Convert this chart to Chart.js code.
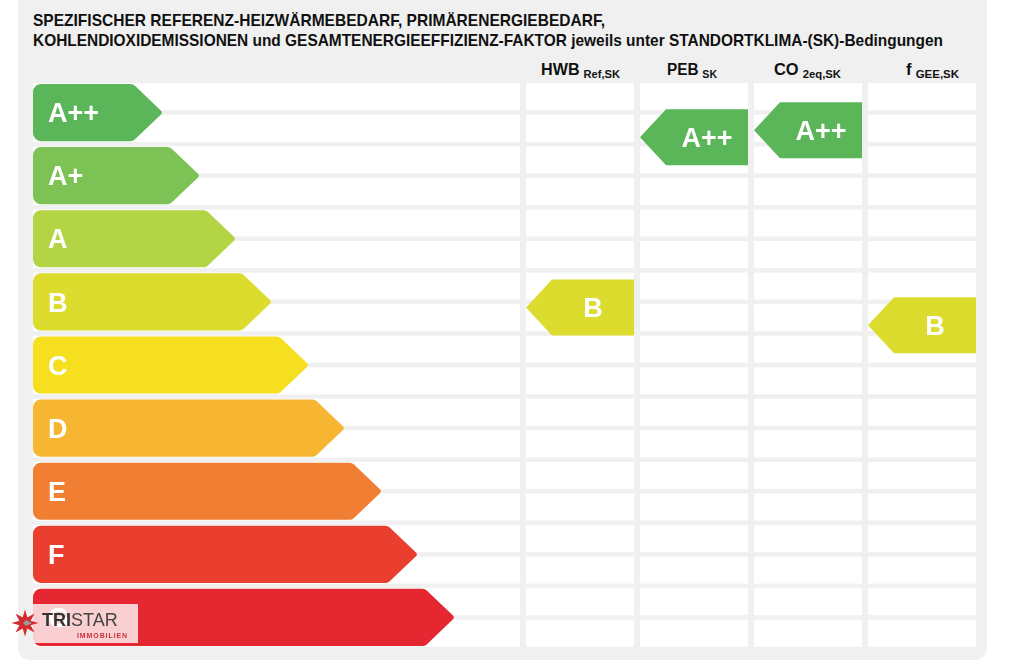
<!DOCTYPE html>
<html><head><meta charset="utf-8">
<script src="https://cdn.jsdelivr.net/npm/chart.js@4.4.1/dist/chart.umd.min.js"></script>
<style>
html,body{margin:0;padding:0;background:#fff;width:1024px;height:667px;overflow:hidden;font-family:"Liberation Sans",Arial,sans-serif;}
#panel{position:absolute;left:18px;top:-14px;width:969px;height:674px;background:#f0f0f0;border-radius:12px;}
.t{position:absolute;font-weight:bold;white-space:nowrap;transform-origin:0 0;color:#111;line-height:1;}
.title{left:33px;font-size:17px;}
.hd{font-size:16px;top:62px;}
.hd sub{font-size:11px;vertical-align:-3px;line-height:1;margin-left:4px;}
canvas{position:absolute;}
#logo{position:absolute;left:33px;top:604px;width:105px;height:39px;background:rgba(255,255,255,0.78);}
#star{position:absolute;left:11px;top:608px;}
#brand{position:absolute;left:42px;top:611px;font-size:18px;line-height:1;color:#444;white-space:nowrap;}
#brand b{color:#333;}
#sub{position:absolute;left:77px;top:632px;font-size:7px;line-height:1;color:#c8333a;letter-spacing:0.9px;font-weight:bold;white-space:nowrap;}
</style></head>
<body>
<div id="panel"></div>
<div class="t title" id="t1" style="top:12px">SPEZIFISCHER REFERENZ-HEIZWÄRMEBEDARF, PRIMÄRENERGIEBEDARF,</div>
<div class="t title" id="t2" style="top:32px">KOHLENDIOXIDEMISSIONEN und GESAMTENERGIEEFFIZIENZ-FAKTOR jeweils unter STANDORTKLIMA-(SK)-Bedingungen</div>
<div class="t hd" id="h1" style="left:541px">HWB<sub>Ref,SK</sub></div>
<div class="t hd" id="h2" style="left:667px">PEB<sub>SK</sub></div>
<div class="t hd" id="h3" style="left:774px">CO<sub>2eq,SK</sub></div>
<div class="t hd" id="h4" style="left:906px">f<sub>GEE,SK</sub></div>
<canvas id="c1" width="507" height="588" style="left:23px;top:71px"></canvas>
<canvas id="c2" width="476" height="588" style="left:513px;top:71px"></canvas>
<div id="logo"></div>
<svg id="star" width="28" height="30" viewBox="0 0 28 30">
<polygon id="starPoly" fill="#d42a2e"/>
<polygon points="15,12 21,15 15,18 12,15" fill="#9a9a9a"/>
</svg>
<div id="brand"><b>TRI</b>STAR</div>
<div id="sub">IMMOBILIEN</div>
<script>
// ---- data ----
const classes = ['A++','A+','A','B','C','D','E','F','G'];
const classColors = ['#5bb659','#7cc254','#b3d444','#dcdc2f','#f6df1f','#f7b631','#f07f34','#ea3f2f','#e42731'];
const arrowLengths = [130,167,203,239,276,312,349,385,422];
const columns = ['HWB Ref,SK','PEB SK','CO 2eq,SK','f GEE,SK'];
const markerClasses = ['B','A++','A++','B'];
const markerPositions = [3.59,0.89,0.78,3.87];

// star shape
(function(){const pts=[];for(let k=0;k<16;k++){const r=k%2?6:13.5;const a=-Math.PI/2+k*Math.PI/8;pts.push((14+r*Math.cos(a)).toFixed(2)+','+(15+r*Math.sin(a)).toFixed(2));}document.getElementById('starPoly').setAttribute('points',pts.join(' '));})();

const FONT='"Liberation Sans", Arial, sans-serif';
const GAP_Y=4.5;

function cellsPlugin(colGap){
  return {id:'cells',beforeDatasetsDraw(chart){
    const ctx=chart.ctx, y=chart.scales.y, x=chart.scales.x, ca=chart.chartArea;
    const n=chart.data.labels.length;
    ctx.save();ctx.fillStyle='#ffffff';
    const isCat=y.type==='category';
    const cols=[];
    if(colGap===0){cols.push([ca.left,ca.right]);}
    else{const bw=x.width/n;for(let i=0;i<n;i++){const cx=x.getPixelForValue(i);cols.push([cx-bw/2+colGap/2,cx+bw/2-colGap/2]);}}
    for(let k=0;k<18;k++){
      const v0=isCat?k/2-0.5:k/2, v1=isCat?(k+1)/2-0.5:(k+1)/2;
      const t=y.getPixelForValue(v0)+GAP_Y/2, b=y.getPixelForValue(v1)-GAP_Y/2;
      cols.forEach(c=>ctx.fillRect(c[0],t,c[1]-c[0],b-t));
    }
    ctx.restore();
  }};
}

function label(ctx,txt,x,m,align){
  ctx.fillStyle='#ffffff';ctx.font='bold 27px '+FONT;ctx.textAlign=align;ctx.textBaseline='alphabetic';
  ctx.fillText(txt,x,m+0.716*27/2);
}

const arrowPlugin={id:'arrows',beforeDatasetDraw(chart,args){
  const ctx=chart.ctx, meta=chart.getDatasetMeta(args.index);
  meta.data.forEach((el,i)=>{
    const p=el.getProps(['x','y','base','height'],true);
    const x0=p.base,x1=p.x,t=p.y-p.height/2,b=p.y+p.height/2,m=p.y;
    const d=(b-t)/2*1.05, r=8, rt=6;
    ctx.save();ctx.beginPath();
    ctx.moveTo(x0+r,t);
    ctx.arcTo(x1-d,t,x1,m,rt);
    ctx.arcTo(x1,m,x1-d,b,3);
    ctx.arcTo(x1-d,b,x0,b,rt);
    ctx.arcTo(x0,b,x0,t,r);
    ctx.arcTo(x0,t,x1-d,t,r);
    ctx.closePath();
    ctx.fillStyle=chart.data.datasets[args.index].backgroundColor[i];ctx.fill();
    label(ctx,chart.data.labels[i],x0+15,m,'left');
    ctx.restore();
  });
  return false;
}};

const MARKER_H=56;
const markerPlugin={id:'markers',beforeDatasetDraw(chart,args){
  const ctx=chart.ctx, meta=chart.getDatasetMeta(args.index), xs=chart.scales.x;
  const bw=xs.width/chart.data.labels.length;
  meta.data.forEach((el,i)=>{
    const cls=markerClasses[i], col=classColors[classes.indexOf(cls)];
    const x0=el.x-bw/2+3, x1=el.x+bw/2-3, m=el.y, t=m-MARKER_H/2, b=m+MARKER_H/2;
    const d=MARKER_H/2*0.93;
    ctx.save();ctx.beginPath();
    ctx.moveTo(x1,t);ctx.lineTo(x0+d,t);ctx.lineTo(x0,m);ctx.lineTo(x0+d,b);ctx.lineTo(x1,b);ctx.closePath();
    ctx.fillStyle=col;ctx.fill();
    label(ctx,cls,(x0+d+x1)/2,m,'center');
    ctx.restore();
  });
  return false;
}};

new Chart(document.getElementById('c1'),{
  type:'bar',
  data:{labels:classes,datasets:[{data:arrowLengths,backgroundColor:classColors,barPercentage:0.906,categoryPercentage:1}]},
  options:{indexAxis:'y',responsive:false,animation:false,events:[],layout:{padding:10},
    plugins:{legend:{display:false},tooltip:{enabled:false}},
    scales:{x:{display:false,min:0,max:487},y:{display:false}}},
  plugins:[cellsPlugin(0),arrowPlugin]
});

new Chart(document.getElementById('c2'),{
  type:'line',
  data:{labels:columns,datasets:[{data:markerPositions,showLine:false,pointRadius:0}]},
  options:{responsive:false,animation:false,events:[],layout:{padding:10},
    plugins:{legend:{display:false},tooltip:{enabled:false}},
    scales:{x:{display:false,offset:true},y:{display:false,reverse:true,min:0,max:9}}},
  plugins:[cellsPlugin(6),markerPlugin]
});

function fit(id,target){const el=document.getElementById(id);const w=el.getBoundingClientRect().width;el.style.transform='scaleX('+(target/w)+')';}
fit('t1',572);fit('t2',910);fit('h1',79);fit('h2',50);fit('h3',67);fit('h4',53);
</script>
</body></html>
